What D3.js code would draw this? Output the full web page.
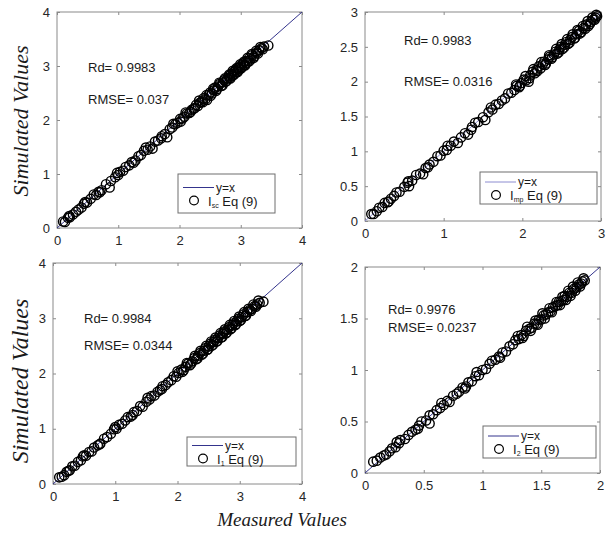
<!DOCTYPE html>
<html>
<head>
<meta charset="utf-8">
<script src="https://cdn.jsdelivr.net/npm/d3@7"></script>
<style>
  body { margin: 0; background: #fff; }
  svg text { font-family: "Liberation Sans", Arial, sans-serif; }
</style>
</head>
<body>
<div id="chart"></div>
<script>
// measured vs simulated values
var iscData = [[0.10,0.12],[0.13,0.11],[0.18,0.19],[0.21,0.20],[0.26,0.25],[0.31,0.30],[0.35,0.34],[0.40,0.38],[0.44,0.45],[0.49,0.47],[0.55,0.54],[0.60,0.62],[0.64,0.61],[0.68,0.67],[0.73,0.70],[0.80,0.81],[0.86,0.75],[0.88,0.87],[0.95,0.94],[1.00,0.98],[1.03,1.04],[1.08,1.06],[1.12,1.13],[1.18,1.16],[1.22,1.22],[1.28,1.25],[1.33,1.33],[1.37,1.35],[1.42,1.43],[1.48,1.45],[1.52,1.51],[1.56,1.47],[1.60,1.60],[1.65,1.62],[1.71,1.70],[1.76,1.74],[1.80,1.68],[1.84,1.83],[1.88,1.86],[1.93,1.92],[1.97,1.95],[2.01,2.02],[2.05,2.03],[2.08,2.06],[2.12,2.12],[2.16,2.13],[2.20,2.19],[2.23,2.21],[2.27,2.28],[2.30,2.26],[2.33,2.32],[2.36,2.34],[2.39,2.40],[2.42,2.38],[2.45,2.37],[2.48,2.47],[2.50,2.51],[2.53,2.49],[2.56,2.55],[2.58,2.60],[2.61,2.57],[2.63,2.62],[2.66,2.67],[2.68,2.63],[2.71,2.70],[2.73,2.74],[2.75,2.71],[2.78,2.77],[2.80,2.81],[2.82,2.78],[2.84,2.85],[2.86,2.82],[2.88,2.89],[2.90,2.86],[2.92,2.93],[2.94,2.90],[2.96,2.97],[2.98,2.94],[3.00,3.01],[3.02,2.98],[3.04,3.05],[3.06,3.02],[3.08,3.09],[3.10,3.06],[3.13,3.14],[3.16,3.12],[3.19,3.20],[3.22,3.18],[3.26,3.25],[3.30,3.29],[3.34,3.33],[3.38,3.36],[3.45,3.38],
  [2.02,1.97],[2.10,2.14],[2.18,2.15],[2.25,2.22],[2.32,2.36],[2.38,2.33],[2.44,2.46],[2.51,2.45],[2.55,2.58],[2.60,2.54],[2.65,2.69],[2.70,2.64],[2.74,2.77],[2.77,2.72],[2.81,2.84],[2.83,2.77],[2.87,2.91],[2.89,2.84],[2.93,2.96],[2.95,2.89],[2.99,3.03],[3.01,2.96],[3.05,3.08],[3.07,3.01],[3.11,3.15],[3.14,3.09],[3.18,3.22],[3.21,3.15],[3.25,3.28],[3.28,3.23],[3.32,3.35],[3.36,3.31],[1.90,1.93],[1.70,1.66],[1.45,1.49],[1.25,1.21],[0.98,1.02],[0.70,0.66],[0.46,0.48],[0.20,0.22]];

var impData = [[0.08,0.10],[0.11,0.10],[0.15,0.14],[0.18,0.19],[0.22,0.20],[0.25,0.26],[0.29,0.27],[0.33,0.32],[0.37,0.36],[0.40,0.41],[0.44,0.42],[0.50,0.49],[0.54,0.55],[0.56,0.50],[0.60,0.58],[0.65,0.66],[0.70,0.68],[0.74,0.67],[0.77,0.76],[0.82,0.81],[0.87,0.85],[0.92,0.93],[0.96,0.94],[1.00,1.01],[1.04,1.02],[1.09,1.08],[1.13,1.14],[1.18,1.12],[1.22,1.20],[1.27,1.26],[1.31,1.24],[1.36,1.35],[1.40,1.41],[1.44,1.42],[1.50,1.49],[1.53,1.45],[1.57,1.56],[1.62,1.60],[1.66,1.67],[1.70,1.68],[1.74,1.73],[1.78,1.76],[1.82,1.83],[1.86,1.84],[1.90,1.88],[1.93,1.94],[1.96,1.92],[1.99,1.98],[2.02,2.03],[2.05,2.02],[2.08,2.00],[2.10,2.09],[2.13,2.14],[2.16,2.12],[2.18,2.17],[2.21,2.22],[2.23,2.19],[2.26,2.25],[2.28,2.29],[2.30,2.26],[2.33,2.32],[2.35,2.36],[2.37,2.33],[2.40,2.39],[2.42,2.43],[2.44,2.40],[2.47,2.46],[2.49,2.50],[2.51,2.47],[2.54,2.53],[2.56,2.57],[2.58,2.54],[2.61,2.60],[2.63,2.64],[2.66,2.62],[2.69,2.68],[2.72,2.73],[2.75,2.71],[2.78,2.77],[2.81,2.82],[2.84,2.80],[2.87,2.86],[2.90,2.89],[2.93,2.92],[2.95,2.94],
  [1.92,1.96],[1.97,1.94],[2.04,2.08],[2.09,2.05],[2.14,2.18],[2.19,2.15],[2.24,2.28],[2.29,2.24],[2.34,2.38],[2.38,2.35],[2.43,2.47],[2.46,2.42],[2.50,2.54],[2.53,2.49],[2.57,2.61],[2.60,2.56],[2.64,2.68],[2.67,2.63],[2.70,2.74],[2.73,2.69],[2.77,2.80],[2.80,2.76],[2.83,2.87],[2.86,2.83],[2.89,2.92],[2.92,2.89],[2.94,2.96],[1.60,1.63],[1.35,1.31],[1.05,1.08],[0.80,0.77],[0.55,0.57],[0.30,0.28]];

var i1Data = [[0.10,0.12],[0.14,0.13],[0.18,0.16],[0.22,0.22],[0.27,0.25],[0.31,0.32],[0.35,0.33],[0.40,0.40],[0.45,0.43],[0.48,0.50],[0.53,0.51],[0.58,0.58],[0.62,0.59],[0.66,0.66],[0.72,0.70],[0.76,0.73],[0.82,0.82],[0.87,0.85],[0.93,0.91],[0.98,0.99],[1.02,1.00],[1.06,1.07],[1.11,1.09],[1.16,1.15],[1.20,1.21],[1.25,1.22],[1.30,1.30],[1.35,1.32],[1.40,1.41],[1.44,1.40],[1.50,1.49],[1.55,1.53],[1.58,1.59],[1.63,1.60],[1.68,1.67],[1.72,1.70],[1.76,1.77],[1.81,1.79],[1.85,1.84],[1.90,1.88],[1.94,1.95],[1.98,1.94],[2.02,2.01],[2.06,2.07],[2.10,2.06],[2.13,2.12],[2.17,2.18],[2.20,2.15],[2.24,2.22],[2.27,2.28],[2.30,2.26],[2.33,2.32],[2.36,2.37],[2.39,2.34],[2.42,2.41],[2.45,2.46],[2.48,2.43],[2.50,2.49],[2.53,2.54],[2.55,2.50],[2.58,2.57],[2.60,2.61],[2.63,2.58],[2.65,2.64],[2.68,2.69],[2.70,2.65],[2.73,2.72],[2.75,2.76],[2.78,2.73],[2.80,2.79],[2.83,2.84],[2.85,2.80],[2.88,2.87],[2.90,2.91],[2.93,2.88],[2.95,2.94],[2.98,2.99],[3.00,2.95],[3.03,3.02],[3.06,3.07],[3.09,3.04],[3.12,3.11],[3.16,3.15],[3.20,3.17],[3.24,3.22],[3.28,3.25],[3.32,3.28],[3.38,3.30],
  [2.00,2.04],[2.08,2.03],[2.15,2.19],[2.22,2.18],[2.28,2.32],[2.32,2.27],[2.37,2.41],[2.41,2.36],[2.46,2.50],[2.49,2.44],[2.54,2.58],[2.57,2.52],[2.61,2.65],[2.64,2.59],[2.69,2.73],[2.72,2.66],[2.76,2.80],[2.79,2.74],[2.84,2.88],[2.87,2.82],[2.91,2.95],[2.94,2.89],[2.99,3.03],[3.02,2.97],[3.07,3.11],[3.10,3.05],[3.14,3.17],[3.18,3.13],[3.22,3.25],[3.26,3.21],[3.30,3.32],[1.75,1.72],[1.52,1.56],[1.28,1.25],[1.00,1.03],[0.75,0.72],[0.50,0.52],[0.25,0.24]];

var i2Data = [[0.07,0.11],[0.10,0.12],[0.13,0.15],[0.16,0.17],[0.18,0.18],[0.21,0.21],[0.23,0.24],[0.26,0.25],[0.29,0.29],[0.30,0.32],[0.34,0.33],[0.37,0.37],[0.40,0.40],[0.43,0.42],[0.46,0.46],[0.48,0.50],[0.52,0.51],[0.55,0.48],[0.55,0.56],[0.58,0.57],[0.61,0.61],[0.64,0.63],[0.67,0.66],[0.70,0.70],[0.72,0.69],[0.75,0.75],[0.78,0.77],[0.80,0.79],[0.83,0.83],[0.86,0.84],[0.88,0.88],[0.91,0.89],[0.94,0.94],[0.97,0.95],[1.00,1.00],[1.03,1.01],[1.06,1.06],[1.08,1.09],[1.11,1.10],[1.14,1.13],[1.17,1.17],[1.20,1.18],[1.23,1.23],[1.26,1.25],[1.28,1.29],[1.31,1.30],[1.33,1.34],[1.35,1.33],[1.37,1.38],[1.40,1.40],[1.42,1.41],[1.44,1.45],[1.46,1.45],[1.48,1.49],[1.50,1.49],[1.52,1.53],[1.54,1.54],[1.56,1.56],[1.58,1.57],[1.60,1.61],[1.62,1.62],[1.64,1.63],[1.65,1.66],[1.67,1.67],[1.69,1.68],[1.70,1.72],[1.72,1.71],[1.74,1.75],[1.76,1.75],[1.78,1.79],[1.80,1.80],[1.82,1.83],[1.84,1.84],[1.85,1.86],[1.87,1.87],
  [1.30,1.33],[1.34,1.31],[1.38,1.42],[1.41,1.38],[1.45,1.48],[1.47,1.44],[1.51,1.55],[1.53,1.50],[1.57,1.60],[1.59,1.56],[1.63,1.66],[1.66,1.63],[1.68,1.71],[1.71,1.68],[1.73,1.77],[1.75,1.72],[1.77,1.81],[1.79,1.77],[1.81,1.85],[1.83,1.81],[1.86,1.89],[1.15,1.12],[0.95,0.98],[0.85,0.82],[0.65,0.68],[0.45,0.43],[0.27,0.30]];

// tick values per panel
var ticks4 = [0, 1, 2, 3, 4];
var ticks3 = [0, 1, 2, 3];
var ticks3half = [0, 0.5, 1, 1.5, 2, 2.5, 3];
var ticks2half = [0, 0.5, 1, 1.5, 2];

// stats text and legend names
var rdLabels = ["Rd= 0.9983", "Rd= 0.9983", "Rd= 0.9984", "Rd= 0.9976"];
var rmseLabels = ["RMSE= 0.037", "RMSE= 0.0316", "RMSE= 0.0344", "RMSE= 0.0237"];
var legendSubs = ["sc", "mp", "1", "2"];

var W = 606, H = 535;
var svg = d3.select("#chart").append("svg")
    .attr("width", W)
    .attr("height", H);

// panel layout (pixel boxes)
var panels = [
  {data: iscData, max: 4, xt: ticks4, yt: ticks4, x0: 57, x1: 302, y0: 12, y1: 228, line: "#34348c",
   rd: [88, 72], rmse: [88, 104], leg: [178, 174, 97, 39]},
  {data: impData, max: 3, xt: ticks3, yt: ticks3half, x0: 365, x1: 601, y0: 12, y1: 221, line: "#8c8cd0",
   rd: [404, 45], rmse: [404, 86], leg: [480, 172, 117, 32]},
  {data: i1Data, max: 4, xt: ticks4, yt: ticks4, x0: 53, x1: 302, y0: 263, y1: 484, line: "#34348c",
   rd: [84, 323], rmse: [84, 350], leg: [187, 437, 109, 29]},
  {data: i2Data, max: 2, xt: ticks2half, yt: ticks2half, x0: 365, x1: 600, y0: 267, y1: 473, line: "#34348c",
   rd: [388, 314], rmse: [388, 332], leg: [483, 426, 113, 32]}
];

panels.forEach(function(p, i){ drawPanel(p, i); });

function drawPanel(p, i) {
  var x = d3.scaleLinear().domain([0, p.max]).range([p.x0, p.x1]);
  var y = d3.scaleLinear().domain([0, p.max]).range([p.y1, p.y0]);
  var g = svg.append("g");

  // bottom / left axes with inward ticks, plus bare top / right ticks
  var ax = g.append("g").attr("transform", "translate(0," + p.y1 + ")")
      .call(d3.axisBottom(x).tickValues(p.xt).tickSize(-3).tickPadding(8).tickFormat(d3.format("")));
  var ay = g.append("g").attr("transform", "translate(" + p.x0 + ",0)")
      .call(d3.axisLeft(y).tickValues(p.yt).tickSize(-3).tickPadding(7).tickFormat(d3.format("")));
  var at = g.append("g").attr("transform", "translate(0," + p.y0 + ")")
      .call(d3.axisTop(x).tickValues(p.xt).tickSize(-3).tickFormat(""));
  var ar = g.append("g").attr("transform", "translate(" + p.x1 + ",0)")
      .call(d3.axisRight(y).tickValues(p.yt).tickSize(-3).tickFormat(""));
  [ax, ay, at, ar].forEach(function(a){
    a.select(".domain").remove();
    a.selectAll("line").attr("stroke", "#8a8a8a");
    a.selectAll("text").attr("fill", "#262626").style("font-size", "13px");
  });
  g.append("rect")
    .attr("x", p.x0).attr("y", p.y0)
    .attr("width", p.x1 - p.x0).attr("height", p.y1 - p.y0)
    .attr("fill", "none").attr("stroke", "#8a8a8a").attr("stroke-width", 1);

  // y = x line
  g.append("line")
    .attr("x1", x(0)).attr("y1", y(0))
    .attr("x2", x(p.max)).attr("y2", y(p.max))
    .attr("stroke", p.line).attr("stroke-width", 1);

  // scatter
  g.selectAll("circle.pt").data(p.data).enter().append("circle")
    .attr("class", "pt")
    .attr("cx", function(d){ return x(d[0]); })
    .attr("cy", function(d){ return y(d[1]); })
    .attr("r", 4.6)
    .attr("fill", "none")
    .attr("stroke", "#000")
    .attr("stroke-width", 1.4);

  // stats
  g.append("text").attr("x", p.rd[0]).attr("y", p.rd[1])
    .style("font-size", "13px").attr("fill", "#1a1a1a").text(rdLabels[i]);
  g.append("text").attr("x", p.rmse[0]).attr("y", p.rmse[1])
    .style("font-size", "13px").attr("fill", "#1a1a1a").text(rmseLabels[i]);

  // legend
  var L = p.leg;
  var lg = g.append("g").attr("transform", "translate(" + L[0] + "," + L[1] + ")");
  lg.append("rect").attr("width", L[2]).attr("height", L[3])
    .attr("fill", "#fff").attr("stroke", "#6e6e6e").attr("stroke-width", 1);
  var mid = L[3] / 2;
  var row1 = mid - 6, row2 = mid + 7;
  lg.append("line").attr("x1", 5).attr("x2", 36).attr("y1", row1).attr("y2", row1)
    .attr("stroke", p.line).attr("stroke-width", 1);
  lg.append("text").attr("x", 38).attr("y", row1 + 4).style("font-size", "12px").attr("fill", "#1a1a1a").text("y=x");
  lg.append("circle").attr("cx", 16).attr("cy", row2).attr("r", 4.4)
    .attr("fill", "none").attr("stroke", "#000").attr("stroke-width", 1.2);
  var t = lg.append("text").attr("x", 30).attr("y", row2 + 5).style("font-size", "13px").attr("fill", "#1a1a1a");
  t.append("tspan").text("I");
  t.append("tspan").attr("dy", 2).style("font-size", "7px").text(legendSubs[i]);
  t.append("tspan").attr("dy", -2).text(" Eq (9)");
}

// axis titles
svg.append("text")
  .attr("transform", "translate(28,121) rotate(-90)")
  .attr("text-anchor", "middle")
  .style("font-family", "'Liberation Serif', 'Times New Roman', serif")
  .style("font-style", "italic").style("font-size", "22px").attr("fill", "#1a1a1a")
  .text("Simulated Values");
svg.append("text")
  .attr("transform", "translate(28,381) rotate(-90)")
  .attr("text-anchor", "middle")
  .style("font-family", "'Liberation Serif', 'Times New Roman', serif")
  .style("font-style", "italic").style("font-size", "24px").attr("fill", "#1a1a1a")
  .text("Simulated Values");
svg.append("text")
  .attr("x", 282).attr("y", 526)
  .attr("text-anchor", "middle")
  .style("font-family", "'Liberation Serif', 'Times New Roman', serif")
  .style("font-style", "italic").style("font-size", "19px").attr("fill", "#1a1a1a")
  .text("Measured Values");
</script>
</body>
</html>
